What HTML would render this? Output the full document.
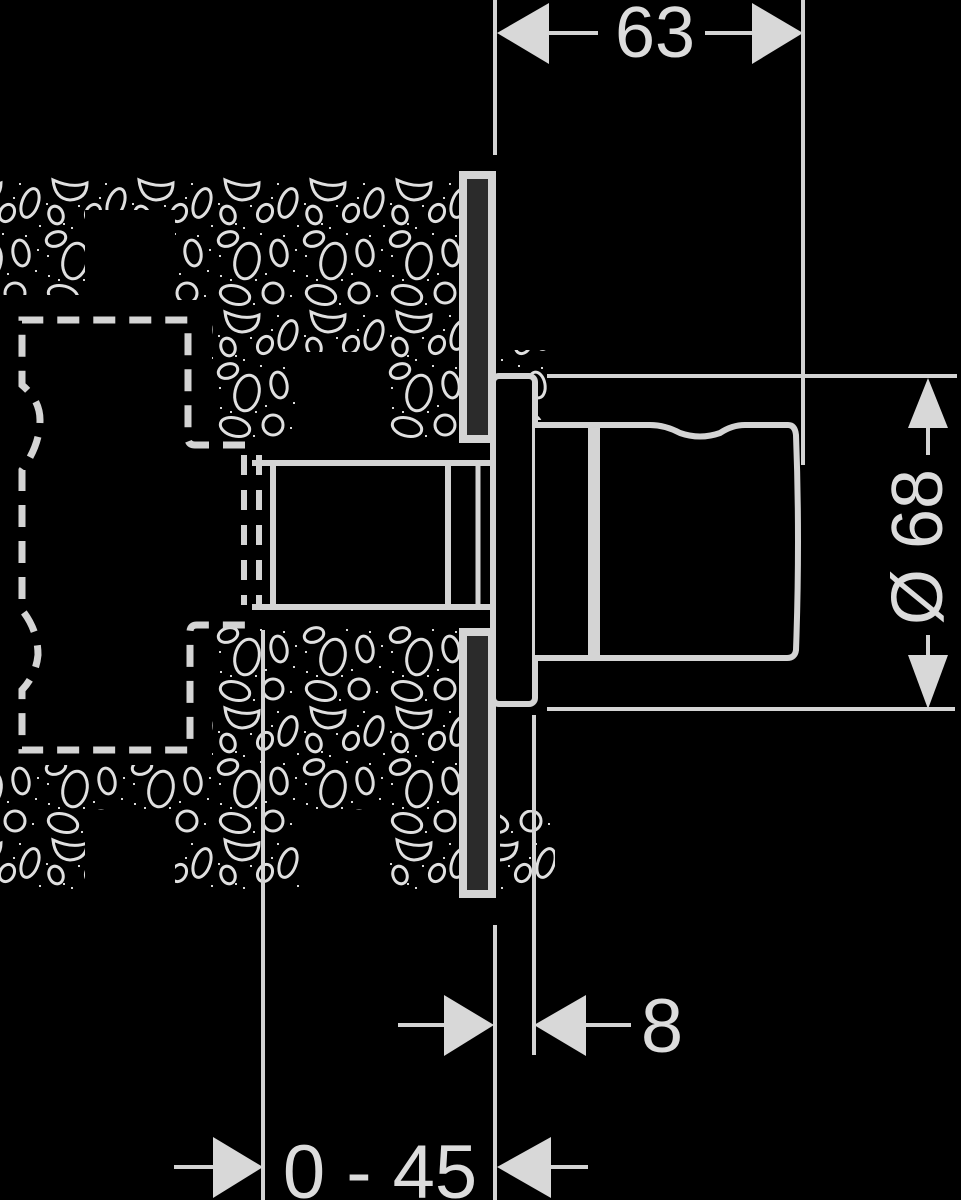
<!DOCTYPE html>
<html><head><meta charset="utf-8">
<style>
html,body{margin:0;padding:0;background:#000;}
svg{display:block;}
text{font-family:"Liberation Sans",sans-serif;fill:#dcdcdc;}
</style></head>
<body>
<svg width="961" height="1200" viewBox="0 0 961 1200" xmlns="http://www.w3.org/2000/svg">
<defs>
<pattern id="conc" x="215" y="175" width="86" height="132" patternUnits="userSpaceOnUse">
<g fill="none" stroke="#e0e0e0" stroke-width="3">
<path d="M10 5 Q12 24 27 25 Q44 24 44 8 Q30 14 10 5Z"/>
<ellipse cx="73" cy="28" rx="8" ry="15" transform="rotate(20 73 28)"/>
<ellipse cx="13" cy="40" rx="7" ry="9" transform="rotate(-20 13 40)"/>
<ellipse cx="50" cy="38" rx="7" ry="9" transform="rotate(30 50 38)"/>
<ellipse cx="13" cy="64" rx="10" ry="7" transform="rotate(-20 13 64)"/>
<ellipse cx="32" cy="86" rx="12" ry="18" transform="rotate(12 32 86)"/>
<ellipse cx="64" cy="78" rx="8" ry="13" transform="rotate(-10 64 78)"/>
<ellipse cx="20" cy="120" rx="15" ry="9" transform="rotate(15 20 120)"/>
<ellipse cx="58" cy="118" rx="10" ry="10"/>
</g>
<g fill="#d8d8d8">
<rect x="3" y="28" width="2" height="2"/><rect x="35" y="30" width="2" height="2"/><rect x="62" y="8" width="2" height="2"/>
<rect x="82" y="50" width="2" height="2"/><rect x="28" y="52" width="2" height="2"/><rect x="45" y="58" width="2" height="2"/>
<rect x="4" y="80" width="2" height="2"/><rect x="50" y="98" width="2" height="2"/><rect x="78" y="95" width="2" height="2"/>
<rect x="40" y="104" width="2" height="2"/><rect x="5" y="100" width="2" height="2"/><rect x="75" y="120" width="2" height="2"/>
<rect x="38" y="128" width="2" height="2"/><rect x="68" y="60" width="2" height="2"/><rect x="20" y="48" width="2" height="2"/>
<rect x="56" y="22" width="2" height="2"/><rect x="80" y="74" width="2" height="2"/><rect x="15" y="104" width="2" height="2"/>
</g>
</pattern>
<clipPath id="cc">
<rect x="0" y="175" width="460" height="35"/>
<rect x="0" y="175" width="85" height="120"/>
<rect x="175" y="175" width="285" height="125"/>
<rect x="212" y="295" width="248" height="57"/>
<rect x="212" y="350" width="83" height="88"/>
<rect x="385" y="350" width="75" height="88"/>
<rect x="500" y="350" width="50" height="70"/>
<rect x="212" y="625" width="248" height="185"/>
<rect x="0" y="765" width="460" height="45"/>
<rect x="0" y="765" width="85" height="125"/>
<rect x="175" y="765" width="125" height="125"/>
<rect x="385" y="765" width="75" height="125"/>
<rect x="500" y="810" width="55" height="80"/>
</clipPath>
</defs>

<rect x="0" y="0" width="961" height="1200" fill="#000"/>
<rect x="0" y="170" width="560" height="730" fill="url(#conc)" clip-path="url(#cc)"/>

<g stroke="#d4d4d4" fill="none">
<!-- dashed box -->
<path d="M245 445 L195 445 Q188 445 188 438 L188 320 L22 320 L22 385 Q40 400 40 420 Q40 445 22 470 L22 610 Q38 630 38 655 Q36 675 22 690 L22 750 L190 750 L190 632 Q190 625 197 625 L245 625" stroke-width="7" stroke-dasharray="22 14"/>
<line x1="244" y1="455" x2="244" y2="605" stroke-width="6" stroke-dasharray="20 15"/>
<line x1="259" y1="455" x2="259" y2="605" stroke-width="6" stroke-dasharray="20 15"/>

<!-- pipe -->
<line x1="252" y1="463" x2="492" y2="463" stroke-width="6"/>
<line x1="252" y1="607" x2="492" y2="607" stroke-width="6"/>
<line x1="273" y1="463" x2="273" y2="607" stroke-width="6"/>
<line x1="448" y1="463" x2="448" y2="607" stroke-width="6"/>
<line x1="478" y1="463" x2="478" y2="607" stroke-width="5"/>

<!-- plates -->
<rect x="463" y="175" width="29" height="264" fill="#2b2b2b" stroke-width="8"/>
<rect x="463" y="632" width="29" height="262" fill="#2b2b2b" stroke-width="8"/>

<!-- flange -->
<rect x="493" y="376" width="42" height="328" rx="6" fill="#000" stroke-width="6"/>
<!-- knob -->
<path d="M535 425 L650 425 Q665 425 680 433 Q700 440 720 433 Q732 425 745 425 L788 425 Q795 425 796 435 Q800 540 796 650 Q795 658 787 658 L535 658" stroke-width="6" fill="#000"/>
<line x1="594" y1="425" x2="594" y2="658" stroke-width="12"/>

<!-- extension lines -->
<line x1="495" y1="0" x2="495" y2="155" stroke-width="4"/>
<line x1="803" y1="0" x2="803" y2="465" stroke-width="4"/>
<line x1="547" y1="376" x2="957" y2="376" stroke-width="4"/>
<line x1="547" y1="709" x2="955" y2="709" stroke-width="4"/>
<line x1="263" y1="630" x2="263" y2="1200" stroke-width="4"/>
<line x1="495" y1="925" x2="495" y2="1200" stroke-width="4"/>
<line x1="534" y1="715" x2="534" y2="1055" stroke-width="4"/>

<!-- dimension lines -->
<line x1="549" y1="33" x2="598" y2="33" stroke-width="4"/>
<line x1="705" y1="33" x2="752" y2="33" stroke-width="4"/>
<line x1="928" y1="428" x2="928" y2="455" stroke-width="4"/>
<line x1="928" y1="635" x2="928" y2="655" stroke-width="4"/>
<line x1="398" y1="1025" x2="444" y2="1025" stroke-width="4"/>
<line x1="586" y1="1025" x2="631" y2="1025" stroke-width="4"/>
<line x1="174" y1="1167" x2="213" y2="1167" stroke-width="4"/>
<line x1="551" y1="1167" x2="588" y2="1167" stroke-width="4"/>
</g>

<g fill="#d8d8d8">
<polygon points="497,33 549,3 549,64"/>
<polygon points="803,33 752,3 752,64"/>
<polygon points="928,378 908,428 948,428"/>
<polygon points="928,709 908,655 948,655"/>
<polygon points="494,1025 444,995 444,1056"/>
<polygon points="534,1025 586,995 586,1056"/>
<polygon points="263,1167 213,1137 213,1198"/>
<polygon points="497,1167 551,1137 551,1198"/>
</g>

<text x="655" y="57" font-size="72" text-anchor="middle">63</text>
<text x="662" y="1052" font-size="76" text-anchor="middle">8</text>
<text x="380" y="1198" font-size="76" text-anchor="middle">0 - 45</text>
<text transform="translate(942,547) rotate(-90)" font-size="72" text-anchor="middle">Ø 68</text>
</svg>
</body></html>
